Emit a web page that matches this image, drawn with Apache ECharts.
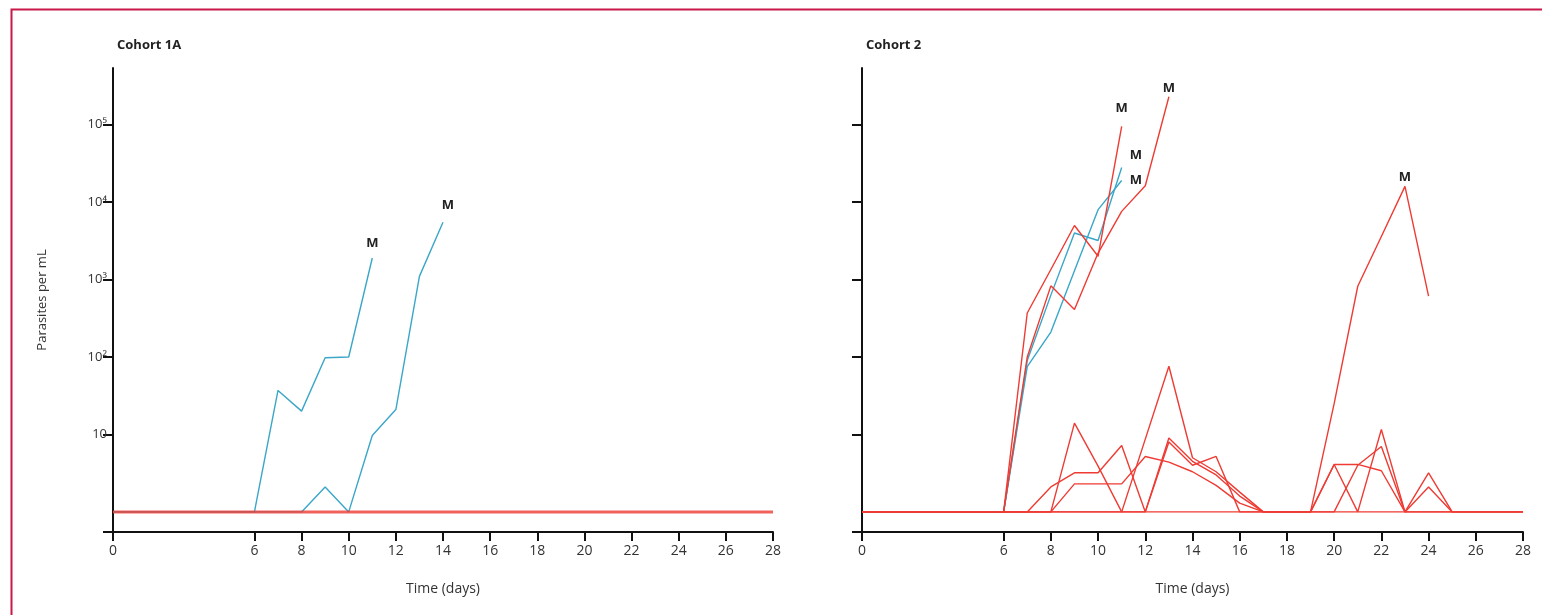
<!DOCTYPE html>
<html>
<head>
<meta charset="utf-8">
<script src="https://cdn.jsdelivr.net/npm/echarts@6/dist/echarts.min.js"></script>
<style>
html, body { margin: 0; padding: 0; background: #fff; }
#chart { width: 1542px; height: 615px; }
</style>
</head>
<body>
<div id="chart"></div>
<script>
// day index for every value array below (value i belongs to day i)
var days = [0, 1, 2, 3, 4, 5, 6, 7, 8, 9, 10, 11, 12, 13, 14, 15, 16, 17, 18, 19, 20, 21, 22, 23, 24, 25, 26, 27, 28];
var xTicks = [0, 6, 8, 10, 12, 14, 16, 18, 20, 22, 24, 26, 28];
var yTicks = [10, 100, 1000, 10000, 100000];
var yTickLabels = ['10', '10²', '10³', '10⁴', '10⁵'];
var yMin = 0.55, yMax = 540000;

// parasites per mL, 1 = below detection
// Cohort 1A
var c1aBlue1 = [1, 1, 1, 1, 1, 1, 1, 37, 20, 98, 100, 1900];
var c1aBlue2 = [1, 1, 1, 1, 1, 1, 1, 1, 1, 2.1, 1, 9.7, 21, 1100, 5500];
var c1aRed = [1, 1, 1, 1, 1, 1, 1, 1, 1, 1, 1, 1, 1, 1, 1, 1, 1, 1, 1, 1, 1, 1, 1, 1, 1, 1, 1, 1, 1];

// Cohort 2
var c2Blue1 = [1, 1, 1, 1, 1, 1, 1, 90, 630, 4000, 3200, 28000];
var c2Blue2 = [1, 1, 1, 1, 1, 1, 1, 75, 210, 1300, 8000, 19000];
var c2RedA = [1, 1, 1, 1, 1, 1, 1, 370, 1350, 5000, 2000, 95000];
var c2RedB = [1, 1, 1, 1, 1, 1, 1, 100, 830, 410, 2200, 7600, 16300, 230000];
var c2RedF = [1, 1, 1, 1, 1, 1, 1, 1, 1, 1, 1, 1, 1, 1, 1, 1, 1, 1, 1, 1, 25, 820, 3600, 16000, 610];
var c2Low1 = [1, 1, 1, 1, 1, 1, 1, 1, 1, 14, 3.9, 1, 1, 9, 4.5, 3, 1.6, 1, 1, 1, 4.1, 4.1, 3.4, 1, 2.1, 1, 1, 1, 1];
var c2Low2 = [1, 1, 1, 1, 1, 1, 1, 1, 2.1, 3.2, 3.2, 7.2, 1, 8, 4, 5.2, 1, 1, 1, 1, 4.1, 1, 11.6, 1, 1, 1, 1, 1, 1];
var c2Low3 = [1, 1, 1, 1, 1, 1, 1, 1, 1, 2.3, 2.3, 2.3, 5.2, 4.4, 3.3, 2.2, 1.3, 1, 1, 1, 1, 1, 1, 1, 1, 1, 1, 1, 1];
var c2Low4 = [1, 1, 1, 1, 1, 1, 1, 1, 1, 1, 1, 1, 8.7, 76, 5, 3.3, 1.8, 1, 1, 1, 1, 4, 7, 1, 3.2, 1, 1, 1, 1];

var BLUE = '#3aa6c8';
var RED = '#ee3b33';
var FONT = "'Liberation Sans Narrow', 'Open Sans', sans-serif";

// M = day the participant was treated for malaria
function pts(vals, mDay, mLabel) {
  return vals.map(function (v, i) {
    var p = [days[i], v];
    if (i === mDay) {
      return {
        value: p,
        label: Object.assign({
          show: true, formatter: 'M', fontSize: 13, fontWeight: 'bold',
          color: '#222', fontFamily: FONT, position: 'top', distance: 6
        }, mLabel || {})
      };
    }
    return p;
  });
}

function line(g, vals, color, mDay, mLabel, width, opacity) {
  return {
    type: 'line', xAxisIndex: g, yAxisIndex: g,
    data: pts(vals, mDay, mLabel),
    symbol: 'circle', symbolSize: 0, showSymbol: true, showAllSymbol: true,
    itemStyle: { color: 'rgba(0,0,0,0)' },
    silent: true, animation: false,
    lineStyle: { color: color, width: width || 1.4, opacity: opacity || 1 },
    z: 3
  };
}

function xAxis(g) {
  return {
    type: 'value', gridIndex: g, min: 0, max: 28,
    name: 'Time (days)', nameLocation: 'middle', nameGap: 50,
    nameTextStyle: { fontSize: 14, color: '#333', fontFamily: FONT },
    axisLine: { lineStyle: { color: '#111', width: 2 } },
    axisTick: { length: 9, customValues: xTicks, lineStyle: { color: '#111', width: 2 } },
    axisLabel: { customValues: xTicks, fontSize: 14, color: '#333', margin: 12, fontFamily: FONT },
    splitLine: { show: false }
  };
}

function yAxis(g, withLabels) {
  return {
    type: 'log', logBase: 10, gridIndex: g, min: yMin, max: yMax,
    name: withLabels ? 'Parasites per mL' : '', nameLocation: 'middle', nameGap: 64,
    nameTextStyle: { fontSize: 13, color: '#333', fontFamily: FONT },
    axisLine: { show: true, lineStyle: { color: '#111', width: 2 } },
    axisTick: { show: true, length: 10, customValues: [yMin].concat(yTicks), lineStyle: { color: '#111', width: 2 } },
    axisLabel: {
      show: withLabels, customValues: yTicks, fontSize: 13, color: '#333', margin: 6, fontFamily: FONT,
      formatter: function (v) {
        var i = yTicks.indexOf(Math.round(v));
        return i >= 0 ? yTickLabels[i] : '';
      }
    },
    splitLine: { show: false }
  };
}

var chart = echarts.init(document.getElementById('chart'));
chart.setOption({
  animation: false,
  backgroundColor: '#fff',
  title: [
    { text: 'Cohort 1A', left: 112, top: 34, textStyle: { fontSize: 13, fontWeight: 'bold', color: '#222', fontFamily: FONT } },
    { text: 'Cohort 2', left: 861, top: 34, textStyle: { fontSize: 13, fontWeight: 'bold', color: '#222', fontFamily: FONT } }
  ],
  graphic: [{
    type: 'rect', left: 9, top: 7, silent: true,
    shape: { width: 1600, height: 700 },
    style: { fill: 'none', stroke: '#c9184a', lineWidth: 2 }
  }],
  grid: [
    { left: 113, top: 68, width: 660, height: 464 },
    { left: 862, top: 68, width: 661, height: 464 }
  ],
  xAxis: [xAxis(0), xAxis(1)],
  yAxis: [yAxis(0, true), yAxis(1, false)],
  series: [
    line(0, c1aBlue1, BLUE, 11, { distance: 8 }),
    line(0, c1aBlue2, BLUE, 14, { distance: 10, offset: [5, 0] }),
    line(0, c1aRed, RED, -1, null, 3, 0.8),

    line(1, c2Blue1, BLUE, 11, { position: 'right', distance: 8, offset: [0, -12] }),
    line(1, c2Blue2, BLUE, 11, { position: 'right', distance: 8 }),
    line(1, c2Low1, RED, -1),
    line(1, c2Low2, RED, -1),
    line(1, c2Low3, RED, -1),
    line(1, c2Low4, RED, -1),
    line(1, c2RedF, RED, 23, { distance: 3 }),
    line(1, c2RedA, RED, 11, { distance: 12 }),
    line(1, c2RedB, RED, 13, { distance: 2 })
  ]
});
</script>
</body>
</html>
